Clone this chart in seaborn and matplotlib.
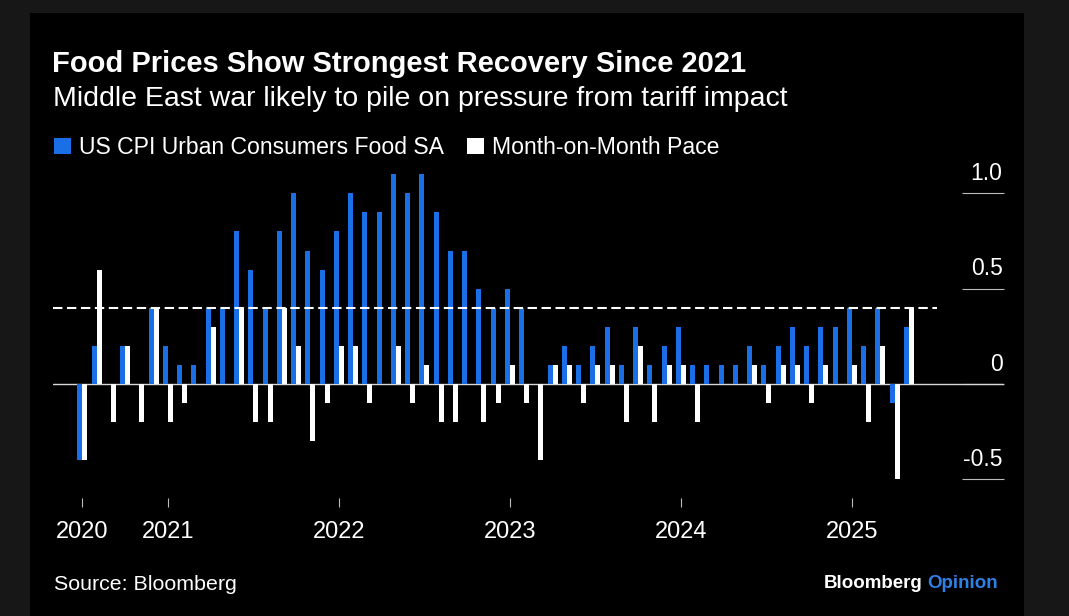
import matplotlib
matplotlib.use('Agg')
import matplotlib.pyplot as plt
import matplotlib.patches as mpatches
import seaborn as sns
import pandas as pd

# monthly data, Jul 2020 - May 2025
months = pd.date_range('2020-07-01', '2025-05-01', freq='MS').strftime('%Y-%m').tolist()
food_mom = [-0.4, 0.2, 0.0, 0.2, 0.0, 0.4, 0.2, 0.1, 0.1, 0.4, 0.4, 0.8,
            0.6, 0.4, 0.8, 1.0, 0.7, 0.6, 0.8, 1.0, 0.9, 0.9, 1.1, 1.0,
            1.1, 0.9, 0.7, 0.7, 0.5, 0.4, 0.5, 0.4, 0.0, 0.1, 0.2, 0.1,
            0.2, 0.3, 0.1, 0.3, 0.1, 0.2, 0.3, 0.1, 0.1, 0.1, 0.1, 0.2,
            0.1, 0.2, 0.3, 0.2, 0.3, 0.3, 0.4, 0.2, 0.4, -0.1, 0.3]
pace_change = [-0.4, 0.6, -0.2, 0.2, -0.2, 0.4, -0.2, -0.1, 0.0, 0.3, 0.0, 0.4,
               -0.2, -0.2, 0.4, 0.2, -0.3, -0.1, 0.2, 0.2, -0.1, 0.0, 0.2, -0.1,
               0.1, -0.2, -0.2, 0.0, -0.2, -0.1, 0.1, -0.1, -0.4, 0.1, 0.1, -0.1,
               0.1, 0.1, -0.2, 0.2, -0.2, 0.1, 0.1, -0.2, 0.0, 0.0, 0.0, 0.1,
               -0.1, 0.1, 0.1, -0.1, 0.1, 0.0, 0.1, -0.2, 0.2, -0.5, 0.4]
series_names = ['US CPI Urban Consumers Food SA', 'Month-on-Month Pace']
y_ticks = [-0.5, 0, 0.5, 1.0]

BLUE = '#1a6fe6'
W, H = 1069, 616

df = pd.DataFrame({
    'month': months * 2,
    'series': [series_names[0]] * len(months) + [series_names[1]] * len(months),
    'value': food_mom + pace_change,
})

sns.set_theme(style='white')
plt.rcParams['font.family'] = ['Liberation Sans', 'DejaVu Sans']

fig = plt.figure(figsize=(W / 100, H / 100), dpi=100, facecolor='#171717')
# black card behind everything
fig.patches.append(mpatches.Rectangle((30 / W, 0), 994 / W, 603 / H, transform=fig.transFigure,
                                      facecolor='black', edgecolor='none', zorder=-5))

ax = fig.add_axes([53 / W, (H - 498.4) / H, (1004 - 53) / W, (498.4 - 155.2) / H])
ax.set_facecolor('none')

sns.barplot(data=df, x='month', y='value', hue='series', order=months, hue_order=series_names,
            palette=[BLUE, 'white'], width=0.7, dodge=True, errorbar=None, linewidth=0,
            saturation=1, ax=ax, zorder=2)
handles, labels = ax.get_legend_handles_labels()
ax.get_legend().remove()

ax.set_xlim(-2.06, 64.68)
ax.set_ylim(-0.6, 1.2)
ax.axhline(0, color='#d8d8d8', lw=1, zorder=1)
ax.hlines(pace_change[-1], ax.get_xlim()[0], len(months) + 1, colors='white', lw=1.5,
          linestyles=(0, (4.5, 2.2)), zorder=3)

for s in ax.spines.values():
    s.set_visible(False)

tick_pos = [i for i, m in enumerate(months) if i == 0 or m.endswith('-01')]
ax.set_xticks(tick_pos)
ax.set_xticklabels([months[i][:4] for i in tick_pos])
ax.set_xlabel('')
ax.set_ylabel('')
ax.tick_params(axis='x', bottom=True, direction='out', length=6.5, width=0.8, color='#bbbbbb',
               pad=10, labelsize=17, labelcolor='white')

ax.yaxis.tick_right()
ax.set_yticks(y_ticks)
ax.tick_params(axis='y', right=True, left=False, direction='in', length=30, width=0.8,
               color='#bbbbbb', labelright=False, labelleft=False)
for v in y_ticks:
    lab = '0' if v == 0 else f'{v:.1f}'
    ax.annotate(lab, xy=(1, v), xycoords=('axes fraction', 'data'), xytext=(-1, 9.5),
                textcoords='offset points', ha='right', va='baseline', fontsize=16.5,
                color='white')

fig.text(52 / W, 1 - 72 / H, 'Food Prices Show Strongest Recovery Since 2021', fontsize=21,
         weight='bold', color='white', va='baseline')
fig.text(53 / W, 1 - 106 / H, 'Middle East war likely to pile on pressure from tariff impact',
         fontsize=20.5, color='white', va='baseline')

fig.legend(handles, labels, loc='upper left', bbox_to_anchor=(54 / W, 1 - 136 / H), ncol=2,
           frameon=False, fontsize=16.6, labelcolor='white', handlelength=0.72, handleheight=0.7,
           handletextpad=0.36, columnspacing=1.0, borderpad=0, borderaxespad=0)

fig.text(54 / W, 1 - 590 / H, 'Source: Bloomberg', fontsize=15.4, color='white', va='baseline')
t_op = fig.text(998 / W, 1 - 588 / H, 'Opinion', fontsize=13.5, weight='bold', color='#2f80e6',
                ha='right', va='baseline')
fig.canvas.draw()
x0 = t_op.get_window_extent().x0
fig.text((x0 - 5) / W, 1 - 588 / H, 'Bloomberg', fontsize=13.5, weight='bold', color='white',
         ha='right', va='baseline')

fig.savefig('out.png', dpi=100, facecolor=fig.get_facecolor())
